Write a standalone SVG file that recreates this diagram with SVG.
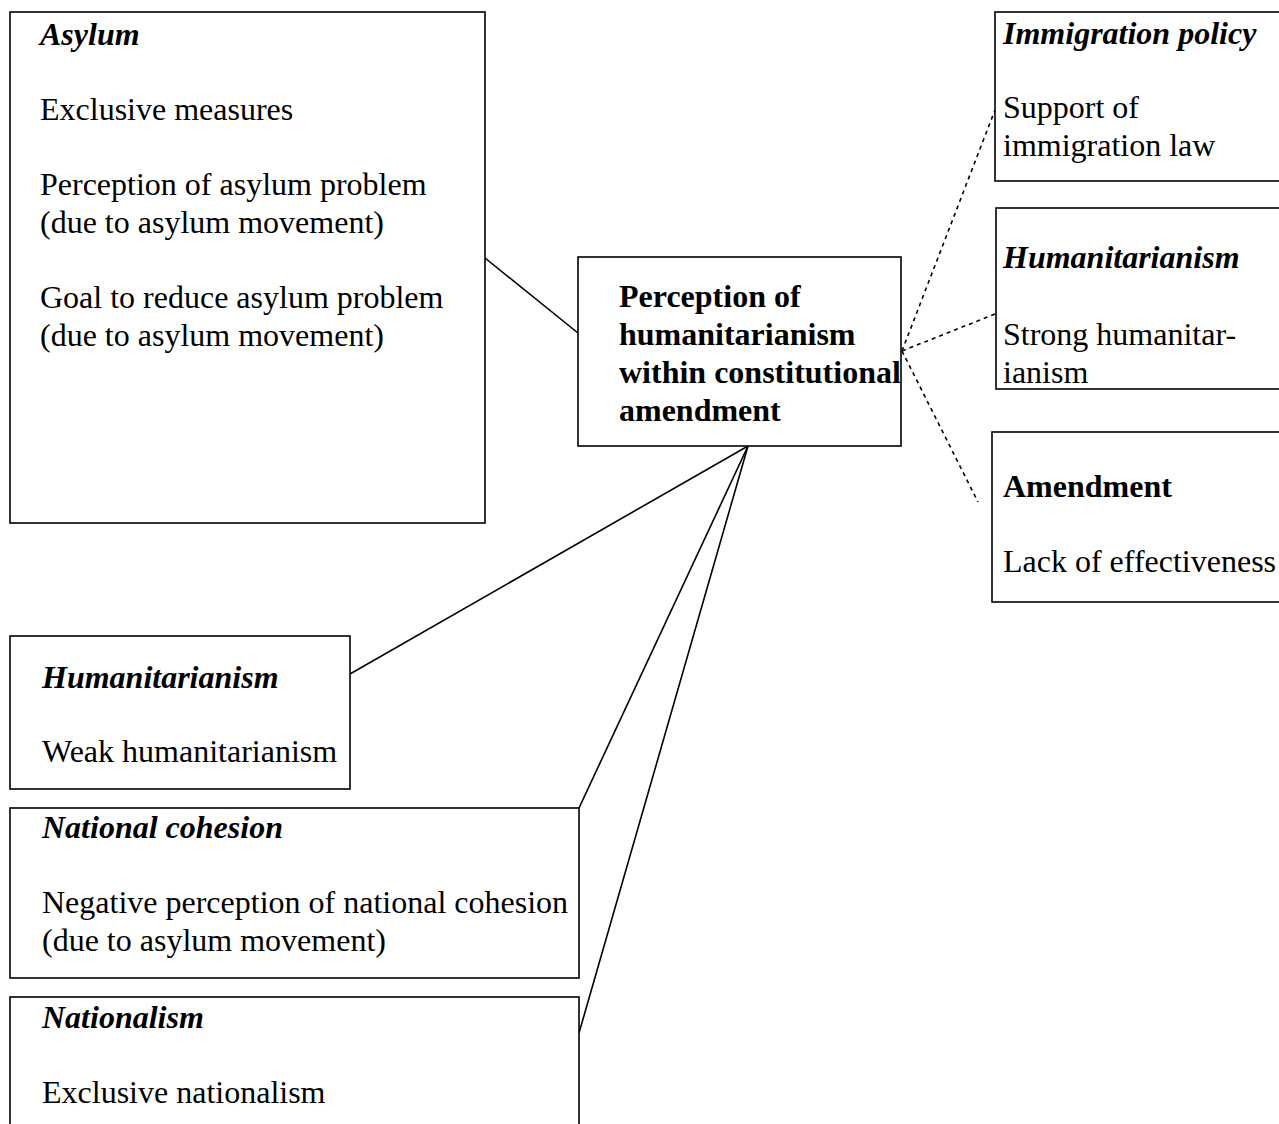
<svg xmlns="http://www.w3.org/2000/svg" width="1279" height="1124" viewBox="0 0 1279 1124">
  <style>
    .box { fill: #fff; stroke: #000; stroke-width: 1.6; }
    text { font-family: "Liberation Serif", "Times New Roman", serif; font-size: 32px; fill: #000; }
    .h { font-weight: bold; font-style: italic; }
    .b { font-weight: bold; }
    .solid { stroke: #000; stroke-width: 1.6; fill: none; }
    .dot { stroke: #000; stroke-width: 1.6; fill: none; stroke-dasharray: 4 4; }
  </style>
  <rect width="1279" height="1124" fill="#fff"/>

  <!-- connectors -->
  <g id="connectors">
    <line class="solid" x1="485" y1="258" x2="578" y2="333"/>
    <line class="solid" x1="748" y1="446" x2="350" y2="674"/>
    <line class="solid" x1="748" y1="446" x2="579" y2="808"/>
    <line class="solid" x1="748" y1="446" x2="579" y2="1033"/>
    <line class="dot" x1="902" y1="351" x2="995" y2="110"/>
    <line class="dot" x1="902" y1="351" x2="995" y2="314"/>
    <line class="dot" x1="902" y1="351" x2="978" y2="502"/>
  </g>

  <g id="asylum">
    <rect class="box" x="10" y="12" width="475" height="511"/>
    <text class="h" x="40" y="45">Asylum</text>
    <text x="40" y="120">Exclusive measures</text>
    <text x="40" y="195">Perception of asylum problem</text>
    <text x="40" y="233">(due to asylum movement)</text>
    <text x="40" y="308">Goal to reduce asylum problem</text>
    <text x="40" y="346">(due to asylum movement)</text>
  </g>

  <g id="perception">
    <rect class="box" x="578" y="257" width="323" height="189"/>
    <text class="b" x="619" y="307">Perception of</text>
    <text class="b" x="619" y="345">humanitarianism</text>
    <text class="b" x="619" y="383">within constitutional</text>
    <text class="b" x="619" y="421">amendment</text>
  </g>

  <g id="immigration-policy">
    <rect class="box" x="995" y="12" width="290" height="169"/>
    <text class="h" x="1003" y="44">Immigration policy</text>
    <text x="1003" y="118">Support of</text>
    <text x="1003" y="156">immigration law</text>
  </g>

  <g id="humanitarianism-strong">
    <rect class="box" x="996" y="208" width="290" height="181"/>
    <text class="h" x="1003" y="268">Humanitarianism</text>
    <text x="1003" y="345">Strong humanitar-</text>
    <text x="1003" y="383">ianism</text>
  </g>

  <g id="amendment">
    <rect class="box" x="992" y="432" width="294" height="170"/>
    <text class="b" x="1003" y="497">Amendment</text>
    <text x="1003" y="572">Lack of effectiveness</text>
  </g>

  <g id="humanitarianism-weak">
    <rect class="box" x="10" y="636" width="340" height="153"/>
    <text class="h" x="42" y="688">Humanitarianism</text>
    <text x="42" y="762">Weak humanitarianism</text>
  </g>

  <g id="national-cohesion">
    <rect class="box" x="10" y="808" width="569" height="170"/>
    <text class="h" x="42" y="838">National cohesion</text>
    <text x="42" y="913">Negative perception of national cohesion</text>
    <text x="42" y="951">(due to asylum movement)</text>
  </g>

  <g id="nationalism">
    <rect class="box" x="10" y="997" width="569" height="140"/>
    <text class="h" x="42" y="1028">Nationalism</text>
    <text x="42" y="1103">Exclusive nationalism</text>
  </g>
</svg>
